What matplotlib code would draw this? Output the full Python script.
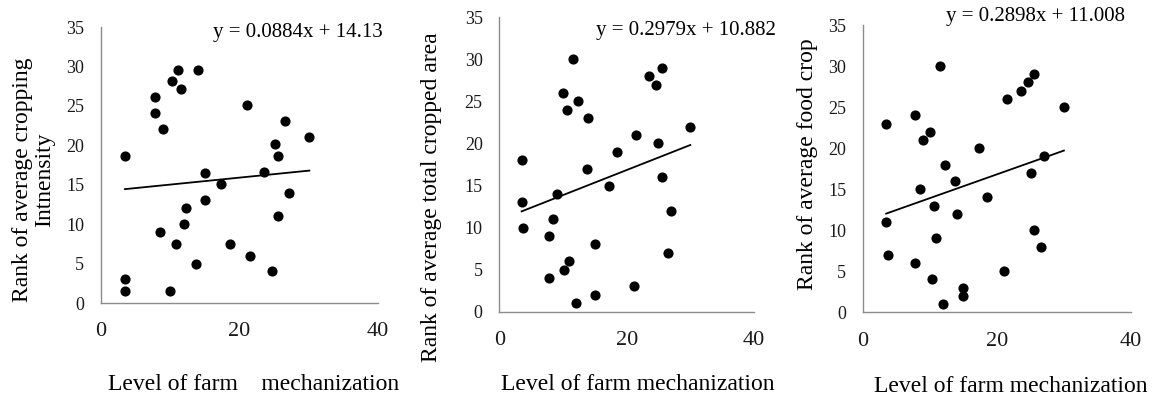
import matplotlib
matplotlib.use("Agg")
import matplotlib.pyplot as plt
import numpy as np

plt.rcParams['font.family'] = ['Liberation Serif', 'DejaVu Serif']

# Level of farm mechanization (x) for each panel
mech1 = [3.5, 3.5, 3.5, 7.8, 7.8, 9.0, 8.6, 10.3, 11.1, 11.6, 14.0, 10.0, 10.8, 12.0, 12.3,
         13.8, 15.1, 15.1, 17.3, 18.6, 21.1, 21.6, 23.6, 24.7, 25.1, 25.6, 25.6, 26.6, 27.1, 30.1]
crop_intensity = [18.6, 3.0, 1.5, 26.1, 24.1, 22.1, 9.0, 28.1, 29.6, 27.1, 29.6, 1.5, 7.5, 10.0, 12.0,
                  5.0, 16.5, 13.0, 15.1, 7.5, 25.1, 6.0, 16.6, 4.0, 20.1, 18.6, 11.0, 23.1, 14.0, 21.1]

mech2 = [3.5, 3.5, 3.7, 7.8, 7.8, 8.4, 9.0, 10.0, 10.2, 10.7, 11.0, 11.5, 12.0, 12.3, 13.7,
         14.0, 15.0, 15.0, 17.2, 18.5, 21.1, 21.5, 23.5, 24.6, 25.0, 25.5, 25.6, 26.5, 27.0, 30.0]
cropped_area = [18, 13, 10, 9, 4, 11, 14, 26, 5, 24, 6, 30, 1, 25, 17,
                23, 8, 2, 15, 19, 3, 21, 28, 27, 20, 16, 29, 7, 12, 22]

mech3 = [3.5, 3.5, 3.8, 7.8, 7.8, 8.6, 9.0, 10.0, 10.3, 10.7, 11.0, 11.5, 12.0, 12.2, 13.8,
         14.1, 15.0, 15.0, 17.3, 18.6, 21.1, 21.5, 23.6, 24.6, 25.1, 25.6, 25.6, 26.6, 27.1, 30.0]
food_crop = [23, 11, 7, 24, 6, 15, 21, 22, 4, 13, 9, 30, 1, 18, 16,
             12, 3, 2, 20, 14, 5, 26, 27, 28, 17, 29, 10, 8, 19, 25]

slopes = [0.0884, 0.2979, 0.2898]
intercepts = [14.13, 10.882, 11.008]
equations = ["y = 0.0884x + 14.13", "y = 0.2979x + 10.882", "y = 0.2898x + 11.008"]
xlabels = ["Level of farm    mechanization", "Level of farm mechanization", "Level of farm mechanization"]
ylabels = ["Rank of average cropping\nIntnensity", "Rank of average total cropped area",
           "Rank of average food crop"]
xticks = [0, 20, 40]
yticks = [0, 5, 10, 15, 20, 25, 30, 35]

W, H = 1157, 399
fig = plt.figure(figsize=(W / 100, H / 100), dpi=100)

# axes boxes in pixels: left, right(x=40), top(y=35), bottom(y=0)
boxes = [(100.7, 378, 27, 303), (499.3, 754, 17.3, 311.7), (862.7, 1131, 25, 312.3)]
xlab_pos = [(253.5, 384), (637.5, 384), (1010.5, 387)]
ylab_pos = [(33.5, 180), (432, 197.5), (808, 164)]
eq_pos = [(298, 32), (686, 30), (1035.5, 17)]

data = [(mech1, crop_intensity), (mech2, cropped_area), (mech3, food_crop)]

for i in range(3):
    l, r, t, b = boxes[i]
    ax = fig.add_axes([l / W, (H - b) / H, (r - l) / W, (b - t) / H])
    x, y = data[i]
    ax.plot(x, y, 'o', color='black', markersize=6.3, clip_on=False)
    xs = np.array([min(x), max(x)])
    ax.plot(xs, slopes[i] * xs + intercepts[i], color='black', linewidth=1.3)
    ax.set_xlim(0, 40)
    ax.set_ylim(0, 35)
    ax.set_xticks(xticks)
    ax.set_yticks(yticks)
    ax.tick_params(length=0, colors='#1a1a1a')
    ax.tick_params(axis='x', pad=14, labelsize=16)
    ax.tick_params(axis='y', pad=12, labelsize=13)
    for s in ['top', 'right']:
        ax.spines[s].set_visible(False)
    for s in ['left', 'bottom']:
        ax.spines[s].set_color('#8c8c8c')
        ax.spines[s].set_linewidth(1.0)
    ax.patch.set_alpha(0)
    fig.text(xlab_pos[i][0] / W, 1 - xlab_pos[i][1] / H, xlabels[i], ha='center', va='center',
             fontsize=17)
    fig.text(ylab_pos[i][0] / W, 1 - ylab_pos[i][1] / H, ylabels[i], ha='center', va='center',
             fontsize=17, rotation=90, linespacing=1.1, multialignment='center')
    fig.text(eq_pos[i][0] / W, 1 - eq_pos[i][1] / H, equations[i], ha='center', va='center',
             fontsize=15)

fig.savefig("out.png", dpi=100)
